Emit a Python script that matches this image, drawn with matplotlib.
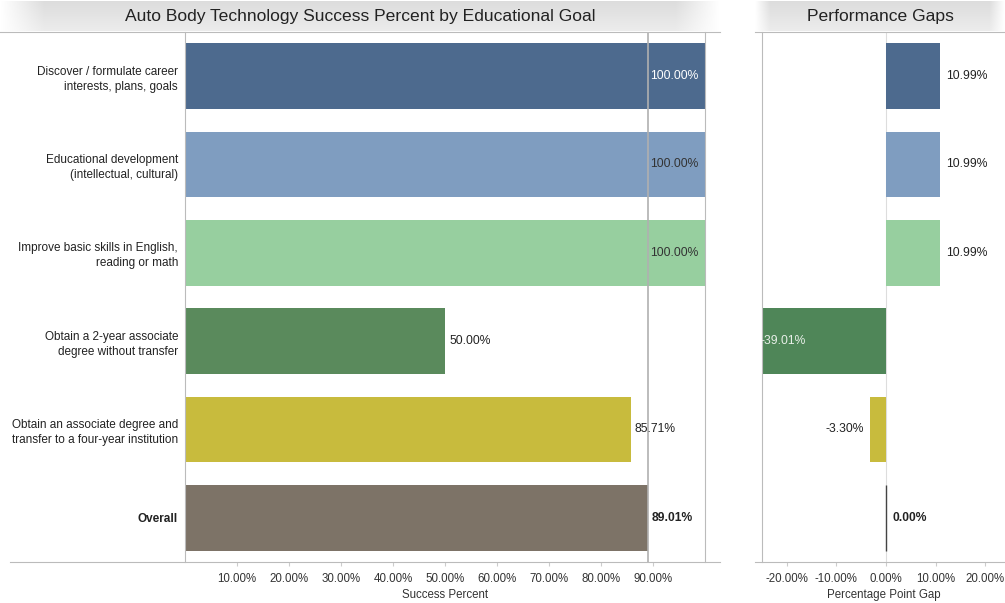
import numpy as np
import matplotlib
matplotlib.use("Agg")
import matplotlib.pyplot as plt
from matplotlib.lines import Line2D

plt.rcParams['font.family'] = ['Liberation Sans', 'DejaVu Sans']

# ---- data ----
goals = [
    "Discover / formulate career\ninterests, plans, goals",
    "Educational development\n(intellectual, cultural)",
    "Improve basic skills in English,\nreading or math",
    "Obtain a 2-year associate\ndegree without transfer",
    "Obtain an associate degree and\ntransfer to a four-year institution",
    "Overall",
]
success = [1.0, 1.0, 1.0, 0.50, 0.8571, 0.8901]
gaps = [0.1099, 0.1099, 0.1099, -0.3901, -0.0330, 0.0]
bar_colors = ["#4d6a8e", "#7f9dc0", "#97cf9f", "#5a8a5c", "#c8bb3d", "#7d7367"]
gap_colors = ["#4d6a8e", "#7f9dc0", "#97cf9f", "#4f8658", "#c8bb3d", "#7d7367"]
success_ticks = [0.1, 0.2, 0.3, 0.4, 0.5, 0.6, 0.7, 0.8, 0.9]
gap_ticks = [-0.2, -0.1, 0.0, 0.1, 0.2]
overall_value = success[-1]

W, H = 1005, 603
fig = plt.figure(figsize=(W / 100, H / 100), dpi=100)


def fx(px):
    return px / W


def fy(py):
    return 1 - py / H


# ---- title bars with soft gray gradient ----
def title_bar(x0, x1, text):
    ax = fig.add_axes([fx(x0), fy(31), fx(x1 - x0), (31 - 1) / H])
    ax.set_axis_off()
    xs = np.linspace(0, 1, 300)
    ys = np.linspace(0, 1, 30)
    X, Y = np.meshgrid(xs, ys)
    edge = np.minimum(X, 1 - X)
    fade = np.clip(edge / 0.06, 0, 1)
    base = 0.865 + 0.06 * Y
    shade = 1 - (1 - base) * fade
    img = np.dstack([shade, shade, shade])
    ax.imshow(img, aspect='auto', extent=[0, 1, 0, 1], origin='upper')
    ax.text(0.5, 0.5, text, ha='center', va='center', fontsize=12.6,
            color='#222222', transform=ax.transAxes)


title_bar(0, 720, "Auto Body Technology Success Percent by Educational Goal")
title_bar(755, 1005, "Performance Gaps")

top, bottom = 32, 562
y = np.arange(len(goals))

# ---- left panel ----
axL = fig.add_axes([fx(185), fy(bottom), fx(705 - 185), (bottom - top) / H])
axL.barh(y, success, height=0.74, color=bar_colors, zorder=2)
axL.set_xlim(0, 1.0)
axL.set_ylim(len(goals) - 0.5, -0.5)
axL.axvline(overall_value, color='#b0b0b0', lw=1.2, zorder=3)
axL.set_yticks(y)
axL.set_yticklabels(goals, fontsize=8.5, color='#222222')
for lbl in axL.get_yticklabels():
    lbl.set_linespacing(1.35)
axL.get_yticklabels()[-1].set_fontweight('bold')
axL.tick_params(axis='y', length=0, pad=5)
axL.set_xticks(success_ticks)
axL.set_xticklabels([f"{t*100:.2f}%" for t in success_ticks], fontsize=8.3, color='#333333')
axL.tick_params(axis='x', length=3, color='#cccccc', pad=5)
axL.set_xlabel("Success Percent", fontsize=8.3, color='#333333', labelpad=3)
for s in ['top', 'bottom']:
    axL.spines[s].set_visible(False)
for s in ['left', 'right']:
    axL.spines[s].set_color('#bbbbbb')
    axL.spines[s].set_linewidth(0.8)

for i, v in enumerate(success):
    weight = 'bold' if i == len(success) - 1 else 'normal'
    if v >= 0.99:
        col = 'white' if i == 0 else '#333333'
        axL.text(v - 0.012, i, f"{v*100:.2f}%", ha='right', va='center',
                 fontsize=8.7, color=col, zorder=4)
    else:
        axL.text(v + 0.008, i, f"{v*100:.2f}%", ha='left', va='center',
                 fontsize=8.7, color='#222222', fontweight=weight, zorder=4)

# ---- right panel ----
axR = fig.add_axes([fx(762), fy(bottom), fx(1005 - 762), (bottom - top) / H])
axR.axvline(0, color='#dddddd', lw=0.8, zorder=1)
axR.barh(y, gaps, height=0.74, color=gap_colors, zorder=2)
axR.barh([len(goals) - 1], [0.0], height=0.74, edgecolor='#444444',
         linewidth=1.0, color='none', zorder=3)
axR.set_xlim(-0.25, 0.24)
axR.set_ylim(len(goals) - 0.5, -0.5)
axR.set_yticks([])
axR.set_xticks(gap_ticks)
axR.set_xticklabels([f"{t*100:.2f}%" for t in gap_ticks], fontsize=8.3, color='#333333')
axR.tick_params(axis='x', length=3, color='#cccccc', pad=5)
axR.set_xlabel("Percentage Point Gap", fontsize=8.3, color='#333333', labelpad=3)
for s in ['top', 'bottom', 'right']:
    axR.spines[s].set_visible(False)
axR.spines['left'].set_color('#bbbbbb')
axR.spines['left'].set_linewidth(0.8)

lo = axR.get_xlim()[0]
for i, g in enumerate(gaps):
    txt = f"{g*100:.2f}%"
    if i == len(gaps) - 1:
        axR.text(0.014, i, txt, ha='left', va='center', fontsize=8.7,
                 fontweight='bold', color='#222222', zorder=4)
    elif g < lo:
        axR.text(lo - 0.004, i, txt, ha='left', va='center', fontsize=8.7,
                 color='#e8efe8', zorder=4, clip_on=True)
    elif g < 0:
        axR.text(g - 0.012, i, txt, ha='right', va='center', fontsize=8.7,
                 color='#222222', zorder=4)
    else:
        axR.text(g + 0.012, i, txt, ha='left', va='center', fontsize=8.7,
                 color='#222222', zorder=4)

# ---- frame lines across the whole figure ----
fig.add_artist(Line2D([fx(0), fx(720)], [fy(top), fy(top)], color='#bbbbbb', lw=0.8))
fig.add_artist(Line2D([fx(755), fx(1005)], [fy(top), fy(top)], color='#bbbbbb', lw=0.8))
fig.add_artist(Line2D([fx(10), fx(720)], [fy(bottom), fy(bottom)], color='#bbbbbb', lw=0.8))
fig.add_artist(Line2D([fx(755), fx(1005)], [fy(bottom), fy(bottom)], color='#bbbbbb', lw=0.8))

fig.savefig("out.png", dpi=100, facecolor='white')
